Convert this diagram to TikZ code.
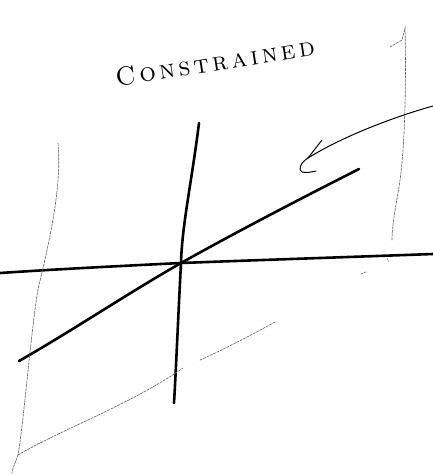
\documentclass[tikz,border=0pt]{standalone}
\usetikzlibrary{calc}
\newcommand{\gp}{\kern3.5pt}
\begin{document}
\begin{tikzpicture}[x=1pt,y=-1pt,
  axis/.style={line width=2.6pt,line cap=round,line join=round,black},
  plane/.style={line width=0.65pt,black!60,dash pattern=on 2.5pt off 1.2pt,line cap=round},
  pointer/.style={line width=1pt,black,line cap=round,line join=round},
  label/.style={font=\fontsize{26}{28}\selectfont\scshape,rotate=9,inner sep=0pt}]
\useasboundingbox (0,0) rectangle (433,475);
% key points
\coordinate (O) at (181,263);
\coordinate (hL) at (0,273);
\coordinate (hR) at (433,254);
\coordinate (vT) at (199,123);
\coordinate (vB) at (174,403);
\coordinate (dL) at (19,361);
\coordinate (dR) at (359,169);
% axes
\draw[axis] (hL) .. controls (60,269) and (120,266) .. (O) .. controls (260,260) and (350,257) .. (hR);
\draw[axis] (vT) .. controls (192,180) and (182,225) .. (O) .. controls (178,320) and (176,370) .. (vB);
\draw[axis] (dL) .. controls (70,332) and (130,292) .. (O) .. controls (240,230) and (300,199) .. (dR);
% plane outline (thin dashed)
\draw[plane] (58,143) .. controls (62,185) and (50,240) .. (38,289)
  .. controls (30,340) and (24,420) .. (18,455) .. controls (16,462) and (13,466) .. (12,473);
\draw[plane] (18,455) .. controls (60,430) and (130,405) .. (183,368);
\draw[plane] (200,360) .. controls (225,349) and (255,333) .. (275,322);
\draw[plane] (390,47) -- (402,40) -- (405,28) .. controls (406,70) and (406,150) .. (398,193)
  .. controls (394,215) and (392,230) .. (392,240);
\draw[plane] (387,258) -- (389,262);
\draw[plane] (361,274) -- (366,272);
% pointer arrow
\coordinate (pS) at (433,106);
\coordinate (pT) at (308,158);
\draw[pointer] (pS) .. controls (390,118) and (340,138) .. (pT);
\draw[pointer] (pT) -- (322,140);
\draw[pointer] (pT) .. controls (300,163) and (298,170) .. (302,172) .. controls (306,173) and (312,172) .. (316,171);
% label
\node[label] (lbl) at (215,62) {C\gp o\gp n\gp s\gp t\gp r\gp a\gp i\gp n\gp e\gp d};
\end{tikzpicture}
\end{document}
